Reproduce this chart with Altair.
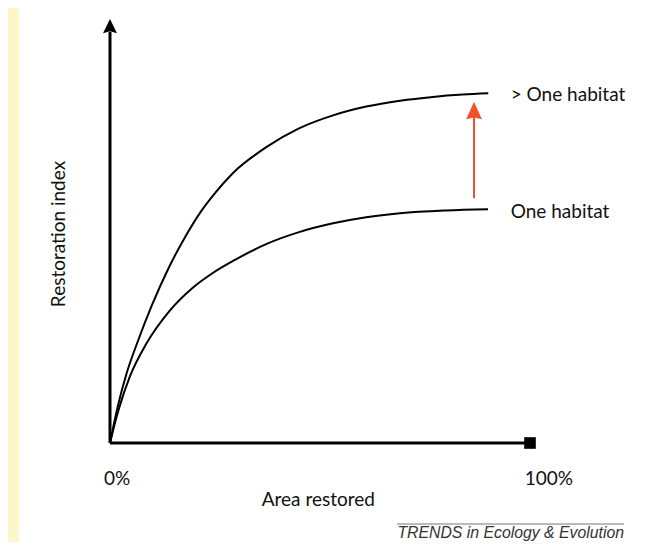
import altair as alt
import pandas as pd

# ---- data (x = % area restored, y = restoration index) ----
upper_x = [0, 0.79, 1.83, 3.98, 6.74, 9.93, 13.88, 17.86, 21.43, 25.0, 29.29, 37.31, 45.0, 53.1, 61.0, 69.05, 76.9, 84.0, 90.07]
upper_y = [0, 3.88, 8.64, 16.67, 24.52, 32.7, 41.5, 49.0, 54.8, 59.5, 64.3, 70.5, 74.9, 78.0, 80.1, 81.5, 82.4, 82.95, 83.26]
lower_x = [0, 0.95, 2.14, 4.76, 8.74, 14.29, 19.5, 24.21, 29.76, 37.31, 45.0, 53.1, 61.0, 69.05, 80.0, 90.0]
lower_y = [0, 3.88, 8.2, 15.9, 23.8, 31.6, 36.8, 40.3, 43.6, 47.4, 50.2, 52.3, 53.75, 54.7, 55.35, 55.64]

curve_names = ["> One habitat", "One habitat"]
tick_labels = ["0%", "100%"]
x_title = "Area restored"
y_title = "Restoration index"
source = "TRENDS in Ecology & Evolution"

# ---- tables ----
curves = pd.DataFrame(
    [{"series": curve_names[0], "x": a, "y": b, "o": i} for i, (a, b) in enumerate(zip(upper_x, upper_y))]
    + [{"series": curve_names[1], "x": a, "y": b, "o": i} for i, (a, b) in enumerate(zip(lower_x, lower_y))]
)

W, H = 634, 534
xs = alt.Scale(domain=[-102 / 4.2, (W - 102) / 4.2], nice=False, zero=False)
ys = alt.Scale(domain=[(435 - H) / 4.2, 435 / 4.2], nice=False, zero=False)
X = lambda f: alt.X(f, type="quantitative", scale=xs, axis=None)
Y = lambda f: alt.Y(f, type="quantitative", scale=ys, axis=None)

band = alt.Chart(pd.DataFrame({"a": [0]})).mark_rect(color="#FBF7C8").encode(
    x=alt.value(0), x2=alt.value(11), y=alt.value(0), y2=alt.value(H)
)

axes_df = pd.DataFrame([
    {"x": 0, "y": 0, "x2": 100, "y2": 0},
    {"x": 0, "y": 0, "x2": 0, "y2": 97.9},
])
axes = alt.Chart(axes_df).mark_rule(color="black", strokeWidth=3).encode(
    x=X("x"), y=Y("y"), x2="x2", y2="y2"
)

yhead = alt.Chart(pd.DataFrame({"x": [0], "y": [99.25]})).mark_point(
    shape="M0,-1L0.98,1L0,0.7L-0.98,1Z", size=204, filled=True, color="black", opacity=1
).encode(x=X("x"), y=Y("y"))

xend = alt.Chart(pd.DataFrame({"x": [100], "y": [0]})).mark_square(
    size=135, color="black", opacity=1
).encode(x=X("x"), y=Y("y"))

lines = alt.Chart(curves).mark_line(color="black", strokeWidth=2, interpolate="monotone").encode(
    x=X("x"), y=Y("y"), detail="series:N", order="o:Q"
)

red = "#F0522B"
shaft = alt.Chart(pd.DataFrame({"x": [86.67], "y": [58.26], "y2": [78.5]})).mark_rule(
    color=red, strokeWidth=2
).encode(x=X("x"), y=Y("y"), y2="y2")
rhead = alt.Chart(pd.DataFrame({"x": [86.67], "y": [79.17]})).mark_point(
    shape="M0,-1L0.89,1L0,0.8L-0.89,1Z", size=310, filled=True, color=red, opacity=1
).encode(x=X("x"), y=Y("y"))

FONT = "Lato"
FS = 19
labels_df = pd.DataFrame([
    {"t": curve_names[0], "x": 95.4, "y": 82.86},
    {"t": curve_names[1], "x": 95.4, "y": 55.07},
])
labels = alt.Chart(labels_df).mark_text(
    font=FONT, fontSize=FS, align="left", baseline="middle", color="#111"
).encode(x=X("x"), y=Y("y"), text="t")

ticks_df = pd.DataFrame([
    {"t": tick_labels[0], "x": 1.67, "y": -8.57},
    {"t": tick_labels[1], "x": 104.5, "y": -8.57},
    {"t": x_title, "x": 49.6, "y": -13.57},
])
ticks = alt.Chart(ticks_df).mark_text(
    font=FONT, fontSize=FS, align="center", baseline="middle", color="#111"
).encode(x=X("x"), y=Y("y"), text="t")

ytitle = alt.Chart(pd.DataFrame({"t": [y_title], "x": [-12.14], "y": [49.76]})).mark_text(
    font=FONT, fontSize=FS, align="center", baseline="middle", angle=270, color="#111"
).encode(x=X("x"), y=Y("y"), text="t")

srcline = alt.Chart(pd.DataFrame({"x": [68.33], "x2": [122.38], "y": [-19.29]})).mark_rule(
    color="#777", strokeWidth=1
).encode(x=X("x"), x2="x2", y=Y("y"))
srctext = alt.Chart(pd.DataFrame({"t": [source], "x": [122.38], "y": [-22.62]})).mark_text(
    font="Liberation Sans", fontSize=15.8, fontStyle="italic", align="right",
    baseline="alphabetic", color="#333"
).encode(x=X("x"), y=Y("y"), text="t")

chart = alt.layer(
    band, lines, axes, yhead, xend, shaft, rhead, labels, ticks, ytitle, srcline, srctext
).properties(width=W, height=H, padding=0, background="white").configure_view(stroke=None)

chart.save("out.html", embed_options={"renderer": "svg", "actions": False})
